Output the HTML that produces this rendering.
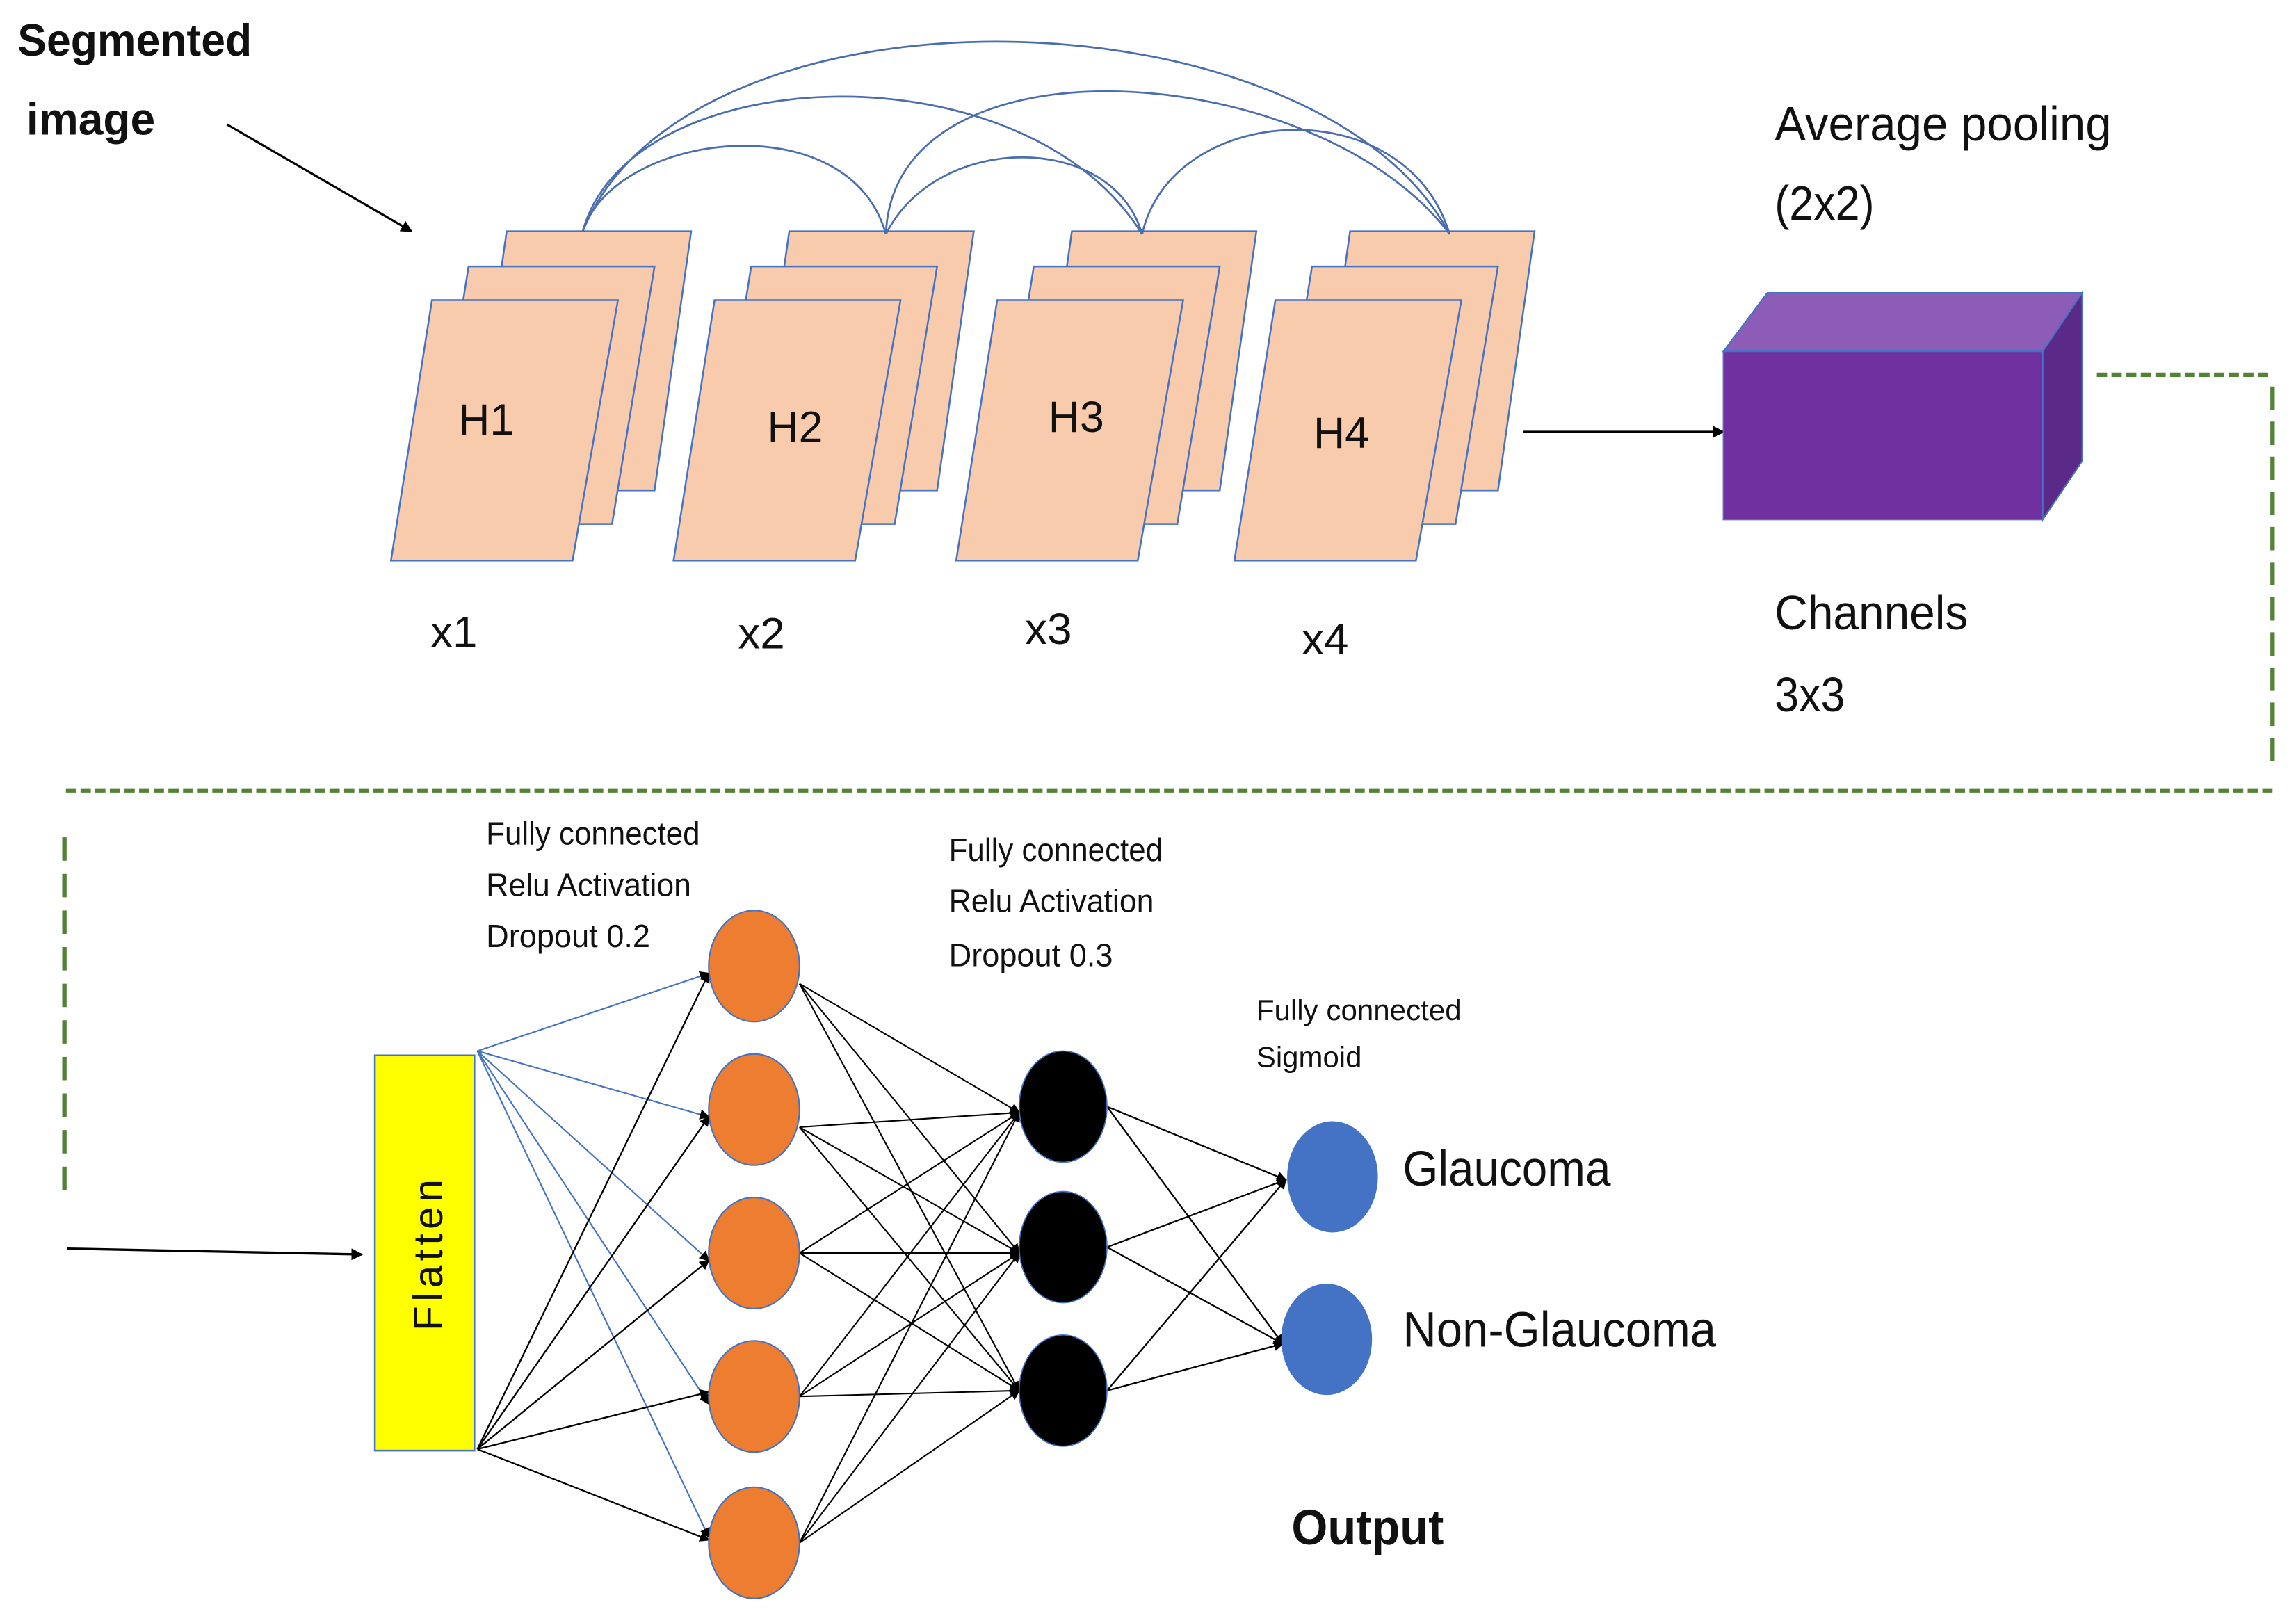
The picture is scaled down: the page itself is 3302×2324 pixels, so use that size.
<!DOCTYPE html>
<html><head><meta charset="utf-8"><style>
html,body{margin:0;padding:0;background:#fff;}
svg{display:block;}
text{font-family:"Liberation Sans",sans-serif;fill:#111;}
</style></head><body>
<svg width="3302" height="2324" viewBox="0 0 1568 1104" preserveAspectRatio="none" xmlns="http://www.w3.org/2000/svg">
<defs>
<marker id="ah" markerWidth="8" markerHeight="8" refX="7" refY="4" orient="auto" markerUnits="userSpaceOnUse">
<path d="M0,0 L8,4 L0,8 z" fill="#000"/></marker>
<marker id="ahs" markerWidth="7" markerHeight="7" refX="6" refY="3.5" orient="auto" markerUnits="userSpaceOnUse">
<path d="M0,0 L7,3.5 L0,7 z" fill="#000"/></marker>
</defs>
<rect width="1568" height="1104" fill="#fff"/>

<text x="12" y="38" font-size="31" font-weight="bold" textLength="160" lengthAdjust="spacingAndGlyphs">Segmented</text>
<text x="18" y="92" font-size="31" font-weight="bold" textLength="88" lengthAdjust="spacingAndGlyphs">image</text>
<line x1="155" y1="85" x2="281" y2="158" stroke="#000" stroke-width="1.5" marker-end="url(#ah)"/>

<!-- sheets -->
<g fill="#F8CBAD" stroke="#4472C4" stroke-width="1.2">
<g id="s1">
<polygon points="346,158 472,158 447,335 321,335"/>
<polygon points="320,182 447,182 418,358 292,358"/>
<polygon points="295,205 422,205 391,383 267,383"/>
</g>
<g transform="translate(193,0)">
<polygon points="346,158 472,158 447,335 321,335"/>
<polygon points="320,182 447,182 418,358 292,358"/>
<polygon points="295,205 422,205 391,383 267,383"/>
</g>
<g transform="translate(386,0)">
<polygon points="346,158 472,158 447,335 321,335"/>
<polygon points="320,182 447,182 418,358 292,358"/>
<polygon points="295,205 422,205 391,383 267,383"/>
</g>
<g transform="translate(576,0)">
<polygon points="346,158 472,158 447,335 321,335"/>
<polygon points="320,182 447,182 418,358 292,358"/>
<polygon points="295,205 422,205 391,383 267,383"/>
</g>
</g>
<g font-size="30" text-anchor="middle">
<text x="332" y="297" textLength="38" lengthAdjust="spacingAndGlyphs">H1</text>
<text x="543" y="302" textLength="38" lengthAdjust="spacingAndGlyphs">H2</text>
<text x="735" y="295" textLength="38" lengthAdjust="spacingAndGlyphs">H3</text>
<text x="916" y="306" textLength="38" lengthAdjust="spacingAndGlyphs">H4</text>
<text x="310" y="442" textLength="32" lengthAdjust="spacingAndGlyphs">x1</text>
<text x="520" y="443" textLength="32" lengthAdjust="spacingAndGlyphs">x2</text>
<text x="716" y="440" textLength="32" lengthAdjust="spacingAndGlyphs">x3</text>
<text x="905" y="447" textLength="32" lengthAdjust="spacingAndGlyphs">x4</text>
</g>

<!-- skip arcs -->
<g fill="none" stroke="#4A6DB0" stroke-width="1.3">
<path d="M398,158 C420,90 580,70 605,160"/>
<path d="M398,158 C430,40 700,30 780,160"/>
<path d="M398,158 C470,-20 900,-10 990,160"/>
<path d="M605,160 C640,90 760,90 780,160"/>
<path d="M605,160 C610,20 900,40 990,160"/>
<path d="M780,160 C800,70 960,60 990,160"/>
</g>

<line x1="1040" y1="295" x2="1177" y2="295" stroke="#000" stroke-width="1.5" marker-end="url(#ah)"/>

<!-- cube -->
<polygon points="1177,240 1207,200 1422,200 1395,240" fill="#8C5CB6" stroke="#4472C4" stroke-width="1"/>
<polygon points="1395,240 1422,200 1422,315 1395,355" fill="#5B2A88" stroke="#4472C4" stroke-width="1"/>
<rect x="1177" y="240" width="218" height="115" fill="#7030A0" stroke="#4472C4" stroke-width="1"/>

<g font-size="33">
<text x="1212" y="96" textLength="230" lengthAdjust="spacingAndGlyphs">Average pooling</text>
<text x="1212" y="150" textLength="68" lengthAdjust="spacingAndGlyphs">(2x2)</text>
<text x="1212" y="430" textLength="132" lengthAdjust="spacingAndGlyphs">Channels</text>
<text x="1212" y="486" textLength="48" lengthAdjust="spacingAndGlyphs">3x3</text>
</g>

<!-- dashed -->
<g fill="none" stroke="#548235" stroke-width="3" stroke-dasharray="7,3">
<polyline points="1432,256 1552,256"/>
<polyline points="1552,264 1552,522" stroke-dasharray="16,8"/>
<polyline points="1552,540 44,540"/>
<polyline points="44,572 44,822" stroke-dasharray="16,9"/>
</g>

<line x1="46" y1="853" x2="247" y2="857" stroke="#000" stroke-width="1.6" marker-end="url(#ah)"/>

<!-- flatten -->
<rect x="256" y="721" width="68" height="270" fill="#FFFF00" stroke="#4472C4" stroke-width="1.2"/>
<text transform="translate(302,856) rotate(-90)" font-size="28" text-anchor="middle" letter-spacing="3">Flatten</text>

<!-- edges flatten->orange -->
<g stroke="#4472C4" stroke-width="1" marker-end="url(#ahs)">
<line x1="326" y1="718" x2="484" y2="665"/>
<line x1="326" y1="718" x2="484" y2="763"/>
<line x1="326" y1="718" x2="484" y2="861"/>
<line x1="326" y1="718" x2="484" y2="959"/>
<line x1="326" y1="718" x2="484" y2="1050"/>
</g>
<g stroke="#000" stroke-width="1.1" marker-end="url(#ahs)">
<line x1="326" y1="990" x2="484" y2="665"/>
<line x1="326" y1="990" x2="484" y2="763"/>
<line x1="326" y1="990" x2="484" y2="861"/>
<line x1="326" y1="990" x2="484" y2="951"/>
<line x1="326" y1="990" x2="484" y2="1052"/>
</g>
<!-- orange->black -->
<g stroke="#000" stroke-width="1" marker-end="url(#ahs)">
<line x1="546" y1="672" x2="696" y2="760"/><line x1="546" y1="672" x2="696" y2="856"/><line x1="546" y1="672" x2="696" y2="950"/>
<line x1="546" y1="770" x2="696" y2="760"/><line x1="546" y1="770" x2="696" y2="856"/><line x1="546" y1="770" x2="696" y2="950"/>
<line x1="546" y1="856" x2="696" y2="760"/><line x1="546" y1="856" x2="696" y2="856"/><line x1="546" y1="856" x2="696" y2="950"/>
<line x1="546" y1="954" x2="696" y2="760"/><line x1="546" y1="954" x2="696" y2="856"/><line x1="546" y1="954" x2="696" y2="950"/>
<line x1="546" y1="1054" x2="696" y2="760"/><line x1="546" y1="1054" x2="696" y2="856"/><line x1="546" y1="1054" x2="696" y2="950"/>
</g>
<!-- black->blue -->
<g stroke="#000" stroke-width="1.1" marker-end="url(#ahs)">
<line x1="756" y1="756" x2="878" y2="806"/><line x1="756" y1="756" x2="876" y2="918"/>
<line x1="756" y1="852" x2="878" y2="806"/><line x1="756" y1="852" x2="876" y2="918"/>
<line x1="756" y1="950" x2="878" y2="806"/><line x1="756" y1="950" x2="876" y2="918"/>
</g>

<!-- nodes -->
<g fill="#ED7D31" stroke="#4472C4" stroke-width="1">
<ellipse cx="515" cy="660" rx="31" ry="38"/>
<ellipse cx="515" cy="758" rx="31" ry="38"/>
<ellipse cx="515" cy="856" rx="31" ry="38"/>
<ellipse cx="515" cy="954" rx="31" ry="38"/>
<ellipse cx="515" cy="1054" rx="31" ry="38"/>
</g>
<g fill="#000" stroke="#4472C4" stroke-width="0.8">
<ellipse cx="726" cy="756" rx="30" ry="38"/>
<ellipse cx="726" cy="852" rx="30" ry="38"/>
<ellipse cx="726" cy="950" rx="30" ry="38"/>
</g>
<g fill="#4472C4">
<ellipse cx="910" cy="804" rx="31" ry="38"/>
<ellipse cx="906" cy="915" rx="31" ry="38"/>
</g>

<g font-size="22">
<text x="332" y="577" textLength="146" lengthAdjust="spacingAndGlyphs">Fully connected</text>
<text x="332" y="612" textLength="140" lengthAdjust="spacingAndGlyphs">Relu Activation</text>
<text x="332" y="647" textLength="112" lengthAdjust="spacingAndGlyphs">Dropout  0.2</text>
<text x="648" y="588" textLength="146" lengthAdjust="spacingAndGlyphs">Fully connected</text>
<text x="648" y="623" textLength="140" lengthAdjust="spacingAndGlyphs">Relu Activation</text>
<text x="648" y="660" textLength="112" lengthAdjust="spacingAndGlyphs">Dropout  0.3</text>
</g>
<g font-size="20">
<text x="858" y="697" textLength="140" lengthAdjust="spacingAndGlyphs">Fully connected</text>
<text x="858" y="729" textLength="72" lengthAdjust="spacingAndGlyphs">Sigmoid</text>
</g>
<g font-size="34">
<text x="958" y="810" textLength="142" lengthAdjust="spacingAndGlyphs">Glaucoma</text>
<text x="958" y="920" textLength="214" lengthAdjust="spacingAndGlyphs">Non-Glaucoma</text>
<text x="882" y="1055" font-weight="bold" textLength="104" lengthAdjust="spacingAndGlyphs">Output</text>
</g>
</svg>
</body></html>
